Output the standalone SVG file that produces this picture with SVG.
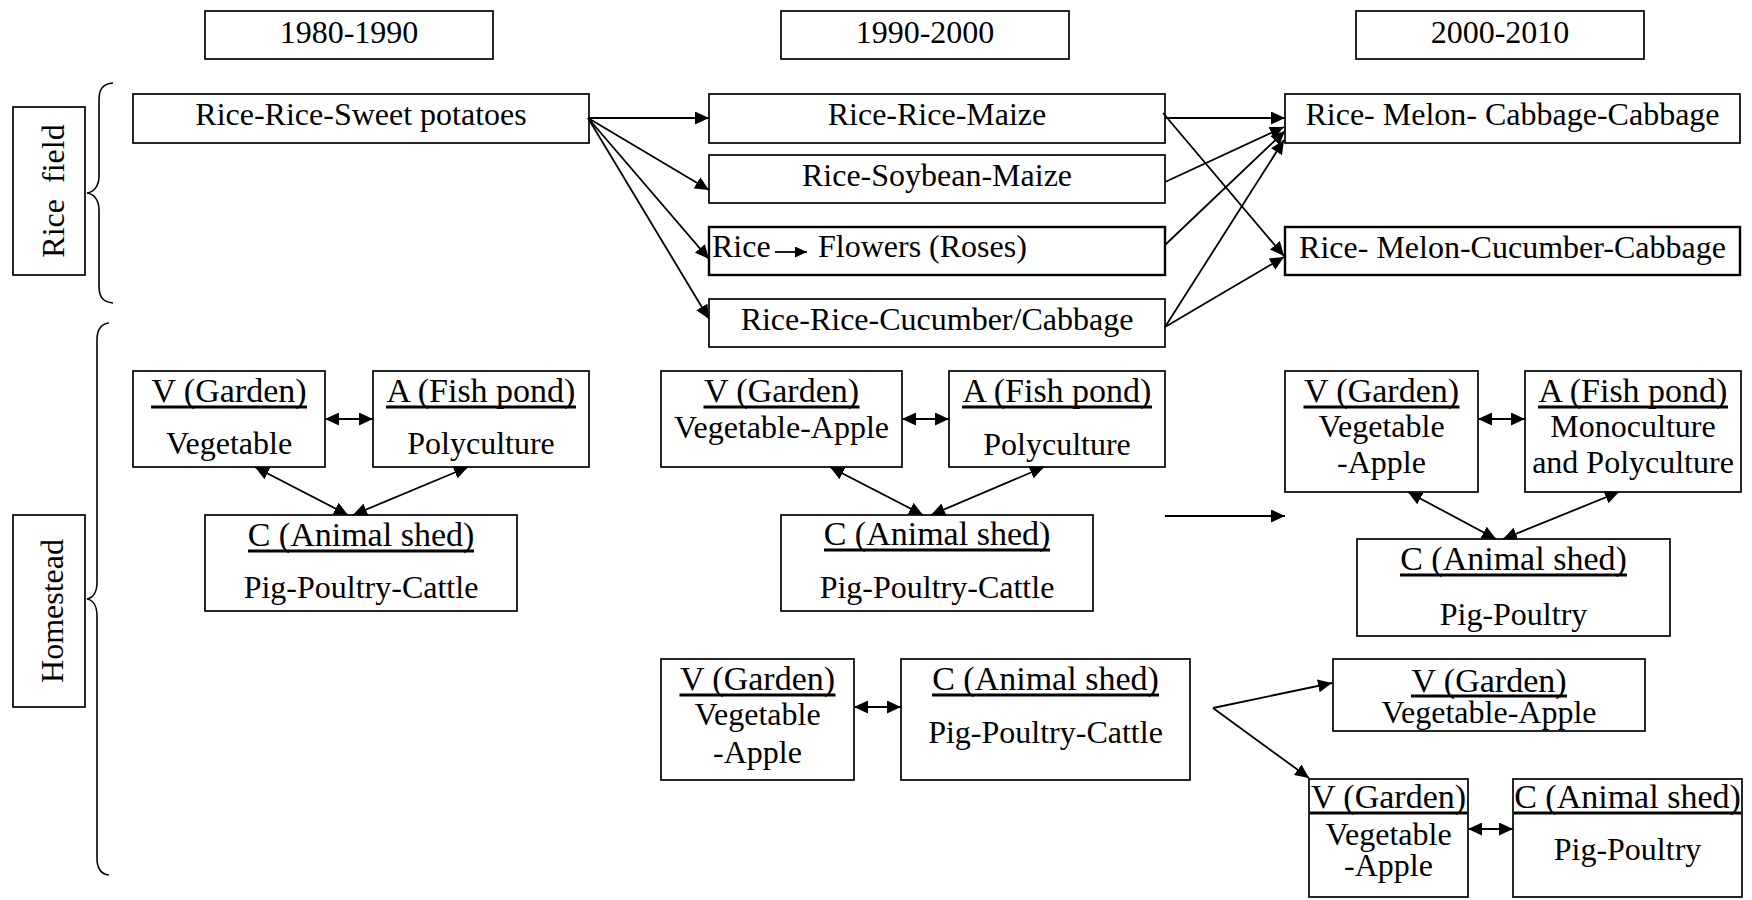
<svg xmlns="http://www.w3.org/2000/svg" width="1752" height="900" viewBox="0 0 1752 900" font-family="Liberation Serif, Times New Roman, serif">
  <style>
    .box { fill: #fff; stroke: #000; stroke-width: 1.7; }
    .thick { stroke-width: 2.4; }
    .t { font-family: 'Liberation Serif', 'Times New Roman', 'DejaVu Serif', serif; font-size: 32px; fill: #000; text-anchor: middle; }
    .h { font-size: 34px; }
    .ul { stroke: #000; stroke-width: 3; }
    .c { stroke: #000; stroke-width: 1.8; fill: none; }
    .brace { stroke: #000; stroke-width: 1.6; fill: none; }
  </style>
  <defs>
    <marker id="ah" markerUnits="userSpaceOnUse" viewBox="0 0 14 13" markerWidth="14" markerHeight="13" refX="14" refY="6.5" orient="auto-start-reverse">
      <path d="M0,0 L14,6.5 L0,13 z" fill="#000"/>
    </marker>
    <marker id="ahs" markerUnits="userSpaceOnUse" viewBox="0 0 12 11" markerWidth="12" markerHeight="11" refX="12" refY="5.5" orient="auto">
      <path d="M0,0 L12,5.5 L0,11 z" fill="#000"/>
    </marker>
  </defs>

  <!-- decade headings -->
  <g id="decade-1980">
    <rect class="box" x="205" y="11" width="288" height="48"/>
    <text class="t" x="349" y="43">1980-1990</text>
  </g>
  <g id="decade-1990">
    <rect class="box" x="781" y="11" width="288" height="48"/>
    <text class="t" x="925" y="43">1990-2000</text>
  </g>
  <g id="decade-2000">
    <rect class="box" x="1356" y="11" width="288" height="48"/>
    <text class="t" x="1500" y="43">2000-2010</text>
  </g>

  <!-- side labels with braces -->
  <g id="label-rice-field">
    <rect class="box" x="13" y="107" width="72" height="168"/>
    <text class="t" transform="translate(64,191) rotate(-90)" xml:space="preserve">Rice  field</text>
    <path class="brace" d="M113,83 C102,84 99,90 99,100 L99,176 C99,186 94,192 87,193 C94,194 99,200 99,210 L99,286 C99,296 102,302 113,303"/>
  </g>
  <g id="label-homestead">
    <rect class="box" x="13" y="515" width="72" height="192"/>
    <text class="t" transform="translate(63,611) rotate(-90)">Homestead</text>
    <path class="brace" d="M109,323 C100,324 97,330 97,340 L97,582 C97,592 93,598 87,599 C93,600 97,606 97,616 L97,858 C97,868 100,874 109,875"/>
  </g>

  <!-- rice field rotations -->
  <g id="rf-rice-rice-sweet-potatoes">
    <rect class="box" x="133" y="94" width="456" height="49"/>
    <text class="t" x="361" y="125">Rice-Rice-Sweet potatoes</text>
  </g>
  <g id="rf-rice-rice-maize">
    <rect class="box" x="709" y="94" width="456" height="49"/>
    <text class="t" x="937" y="125">Rice-Rice-Maize</text>
  </g>
  <g id="rf-rice-soybean-maize">
    <rect class="box" x="709" y="155" width="456" height="48"/>
    <text class="t" x="937" y="186">Rice-Soybean-Maize</text>
  </g>
  <g id="rf-rice-flowers">
    <rect class="box thick" x="709" y="227" width="456" height="48"/>
    <text class="t" x="712" y="257" style="text-anchor:start">Rice</text>
    <line class="c" x1="775" y1="252" x2="807" y2="252" marker-end="url(#ahs)"/>
    <text class="t" x="818" y="257" style="text-anchor:start">Flowers (Roses)</text>
  </g>
  <g id="rf-rice-rice-cucumber-cabbage">
    <rect class="box" x="709" y="299" width="456" height="48"/>
    <text class="t" x="937" y="330">Rice-Rice-Cucumber/Cabbage</text>
  </g>
  <g id="rf-rice-melon-cabbage-cabbage">
    <rect class="box" x="1285" y="94" width="455" height="49"/>
    <text class="t" x="1512.5" y="125">Rice- Melon- Cabbage-Cabbage</text>
  </g>
  <g id="rf-rice-melon-cucumber-cabbage">
    <rect class="box thick" x="1285" y="227" width="455" height="48"/>
    <text class="t" x="1512.5" y="258">Rice- Melon-Cucumber-Cabbage</text>
  </g>

  <!-- homestead 1980-1990 -->
  <g id="h80-garden">
    <rect class="box" x="133" y="371" width="192" height="96"/>
    <text class="t h" x="229" y="402">V (Garden)</text>
    <line class="ul" x1="151" y1="407" x2="307" y2="407"/>
    <text class="t" x="229" y="454">Vegetable</text>
  </g>
  <g id="h80-pond">
    <rect class="box" x="373" y="371" width="216" height="96"/>
    <text class="t h" x="481" y="402">A (Fish pond)</text>
    <line class="ul" x1="386" y1="407" x2="576" y2="407"/>
    <text class="t" x="481" y="454">Polyculture</text>
  </g>
  <g id="h80-shed">
    <rect class="box" x="205" y="515" width="312" height="96"/>
    <text class="t h" x="361" y="546">C (Animal shed)</text>
    <line class="ul" x1="248" y1="551" x2="474" y2="551"/>
    <text class="t" x="361" y="598">Pig-Poultry-Cattle</text>
  </g>

  <!-- homestead 1990-2000, upper -->
  <g id="h90a-garden">
    <rect class="box" x="661" y="371" width="241" height="96"/>
    <text class="t h" x="781.5" y="402">V (Garden)</text>
    <line class="ul" x1="703.5" y1="407" x2="859.5" y2="407"/>
    <text class="t" x="781.5" y="438">Vegetable-Apple</text>
  </g>
  <g id="h90a-pond">
    <rect class="box" x="949" y="371" width="216" height="96"/>
    <text class="t h" x="1057" y="402">A (Fish pond)</text>
    <line class="ul" x1="962" y1="407" x2="1152" y2="407"/>
    <text class="t" x="1057" y="455">Polyculture</text>
  </g>
  <g id="h90a-shed">
    <rect class="box" x="781" y="515" width="312" height="96"/>
    <text class="t h" x="937" y="545">C (Animal shed)</text>
    <line class="ul" x1="824" y1="550" x2="1050" y2="550"/>
    <text class="t" x="937" y="598">Pig-Poultry-Cattle</text>
  </g>

  <!-- homestead 1990-2000, lower -->
  <g id="h90b-garden">
    <rect class="box" x="661" y="659" width="193" height="121"/>
    <text class="t h" x="757.5" y="690">V (Garden)</text>
    <line class="ul" x1="679.5" y1="695" x2="835.5" y2="695"/>
    <text class="t" x="757.5" y="725">Vegetable</text>
    <text class="t" x="757.5" y="763">-Apple</text>
  </g>
  <g id="h90b-shed">
    <rect class="box" x="901" y="659" width="289" height="121"/>
    <text class="t h" x="1045.5" y="690">C (Animal shed)</text>
    <line class="ul" x1="932" y1="695" x2="1159" y2="695"/>
    <text class="t" x="1045.5" y="743">Pig-Poultry-Cattle</text>
  </g>

  <!-- homestead 2000-2010, upper -->
  <g id="h00a-garden">
    <rect class="box" x="1285" y="371" width="193" height="121"/>
    <text class="t h" x="1381.5" y="402">V (Garden)</text>
    <line class="ul" x1="1303.5" y1="407" x2="1459.5" y2="407"/>
    <text class="t" x="1381.5" y="437">Vegetable</text>
    <text class="t" x="1381.5" y="473">-Apple</text>
  </g>
  <g id="h00a-pond">
    <rect class="box" x="1525" y="371" width="216" height="121"/>
    <text class="t h" x="1633" y="402">A (Fish pond)</text>
    <line class="ul" x1="1538" y1="407" x2="1728" y2="407"/>
    <text class="t" x="1633" y="437">Monoculture</text>
    <text class="t" x="1633" y="473">and Polyculture</text>
  </g>
  <g id="h00a-shed">
    <rect class="box" x="1357" y="539" width="313" height="97"/>
    <text class="t h" x="1513.5" y="570">C (Animal shed)</text>
    <line class="ul" x1="1400" y1="575" x2="1627" y2="575"/>
    <text class="t" x="1513.5" y="625">Pig-Poultry</text>
  </g>

  <!-- homestead 2000-2010, lower -->
  <g id="h00b-garden">
    <rect class="box" x="1333" y="659" width="312" height="72"/>
    <text class="t h" x="1489" y="692">V (Garden)</text>
    <line class="ul" x1="1411" y1="696" x2="1567" y2="696"/>
    <text class="t" x="1489" y="723">Vegetable-Apple</text>
  </g>
  <g id="h00c-garden">
    <rect class="box" x="1309" y="779" width="159" height="118"/>
    <text class="t h" x="1388.5" y="808">V (Garden)</text>
    <line class="ul" x1="1310" y1="813" x2="1467" y2="813"/>
    <text class="t" x="1388.5" y="845">Vegetable</text>
    <text class="t" x="1388.5" y="876">-Apple</text>
  </g>
  <g id="h00c-shed">
    <rect class="box" x="1513" y="779" width="229" height="118"/>
    <text class="t h" x="1627.5" y="808">C (Animal shed)</text>
    <line class="ul" x1="1514" y1="813" x2="1741" y2="813"/>
    <text class="t" x="1627.5" y="860">Pig-Poultry</text>
  </g>

  <!-- connectors -->
  <g id="connectors">
    <!-- 1980s rice field to 1990s -->
    <line class="c" x1="588" y1="118" x2="709" y2="118" marker-end="url(#ah)"/>
    <line class="c" x1="588" y1="118" x2="709" y2="190" marker-end="url(#ah)"/>
    <line class="c" x1="588" y1="118" x2="709" y2="259" marker-end="url(#ah)"/>
    <line class="c" x1="588" y1="118" x2="709" y2="319" marker-end="url(#ah)"/>
    <!-- 1990s rice field to 2000s -->
    <line class="c" x1="1165" y1="118" x2="1285" y2="118" marker-end="url(#ah)"/>
    <line class="c" x1="1163" y1="113" x2="1284" y2="256" marker-end="url(#ah)"/>
    <line class="c" x1="1165" y1="182" x2="1284" y2="127" marker-end="url(#ah)"/>
    <line class="c" x1="1165" y1="245" x2="1285" y2="131" marker-end="url(#ah)"/>
    <line class="c" x1="1165" y1="327" x2="1284" y2="140" marker-end="url(#ah)"/>
    <line class="c" x1="1165" y1="327" x2="1284" y2="257" marker-end="url(#ah)"/>
    <!-- homestead links, 1980s -->
    <line class="c" x1="325" y1="419" x2="373" y2="419" marker-start="url(#ah)" marker-end="url(#ah)"/>
    <line class="c" x1="255" y1="467" x2="348" y2="515" marker-start="url(#ah)" marker-end="url(#ah)"/>
    <line class="c" x1="468" y1="467" x2="353" y2="515" marker-start="url(#ah)" marker-end="url(#ah)"/>
    <!-- homestead links, 1990s -->
    <line class="c" x1="902" y1="419" x2="949" y2="419" marker-start="url(#ah)" marker-end="url(#ah)"/>
    <line class="c" x1="830" y1="467" x2="923" y2="515" marker-start="url(#ah)" marker-end="url(#ah)"/>
    <line class="c" x1="1044" y1="467" x2="931" y2="515" marker-start="url(#ah)" marker-end="url(#ah)"/>
    <line class="c" x1="854" y1="707" x2="901" y2="707" marker-start="url(#ah)" marker-end="url(#ah)"/>
    <!-- homestead transitions to 2000s -->
    <line class="c" x1="1165" y1="516" x2="1285" y2="516" marker-end="url(#ah)"/>
    <line class="c" x1="1213" y1="708" x2="1332" y2="683" marker-end="url(#ah)"/>
    <line class="c" x1="1213" y1="708" x2="1309" y2="778" marker-end="url(#ah)"/>
    <!-- homestead links, 2000s -->
    <line class="c" x1="1478" y1="419" x2="1525" y2="419" marker-start="url(#ah)" marker-end="url(#ah)"/>
    <line class="c" x1="1408" y1="492" x2="1496" y2="539" marker-start="url(#ah)" marker-end="url(#ah)"/>
    <line class="c" x1="1619" y1="492" x2="1503" y2="539" marker-start="url(#ah)" marker-end="url(#ah)"/>
    <line class="c" x1="1468" y1="829" x2="1513" y2="829" marker-start="url(#ah)" marker-end="url(#ah)"/>
  </g>
</svg>
